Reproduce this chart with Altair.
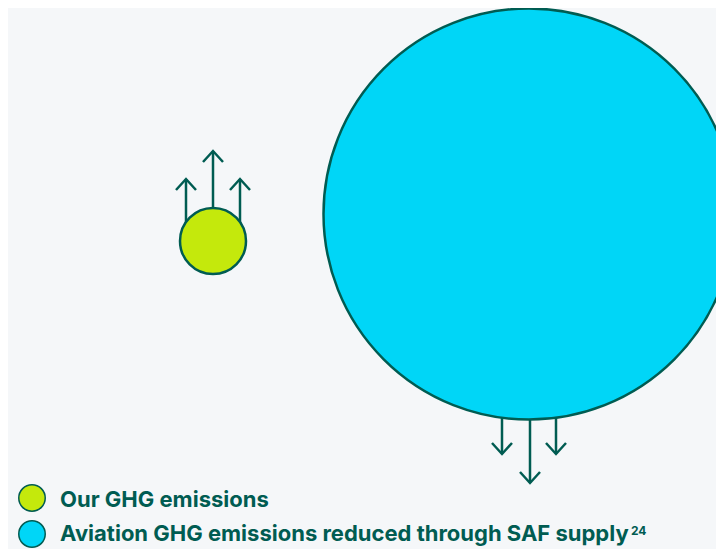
import altair as alt
import pandas as pd

# ---- data ----
categories = ["Our GHG emissions", "Aviation GHG emissions reduced through SAF supply"]
values = [1.0, 38.8]          # relative size (area-proportional)
fill_colors = ["#c4e90c", "#00d6f7"]
footnotes = ["", "24"]
directions = ["up", "down"]

# ---- layout (screen pixel coordinates) ----
OX, OY = 8, 8
W, H = 708, 541
bubble_cx = [213, 529]
bubble_cy = [241, 214]
arrow_x = [[186, 213, 240], [502, 530, 556]]
arrow_tip = [[179, 151, 179], [454, 483, 454]]
head_w, head_h = 10, 11
legend_x = 32
legend_y = [498, 534]
label_x = 60
label_base = [507, 541]
sup_x = [0, 631]
sup_base = [0, 535]

DARK = "#005c52"
BG = "#f5f7f9"

xs = alt.Scale(domain=[OX, OX + W], nice=False, zero=False)
ys = alt.Scale(domain=[OY, OY + H], nice=False, zero=False, reverse=True)
X = lambda f: alt.X(f, type="quantitative", scale=xs, axis=None)
Y = lambda f: alt.Y(f, type="quantitative", scale=ys, axis=None)

bubbles = pd.DataFrame({
    "cat": categories, "value": values, "color": fill_colors,
    "x": bubble_cx, "y": bubble_cy,
})

shafts, heads = [], []
for i in range(len(categories)):
    sgn = -1 if directions[i] == "up" else 1
    for j, (ax, tip) in enumerate(zip(arrow_x[i], arrow_tip[i])):
        shafts.append({"x": ax, "y": bubble_cy[i], "x2": ax, "y2": tip})
        aid = f"{i}-{j}"
        heads.append({"id": aid, "o": 0, "x": ax - head_w, "y": tip - sgn * head_h})
        heads.append({"id": aid, "o": 1, "x": ax, "y": tip})
        heads.append({"id": aid, "o": 2, "x": ax + head_w, "y": tip - sgn * head_h})
shafts = pd.DataFrame(shafts)
heads = pd.DataFrame(heads)

legend = pd.DataFrame({
    "cat": categories, "color": fill_colors, "x": [legend_x] * 2,
    "y": legend_y, "lx": [label_x] * 2, "ly": label_base,
    "sup": footnotes, "sx": sup_x, "sy": sup_base,
})

# Vega circle symbols: size = diameter^2
max_size = (2 * 205.5) ** 2
size_scale = alt.Scale(type="linear", domain=[0, max(values)], range=[0, max_size], zero=True)

shaft_layer = alt.Chart(shafts).mark_rule(color=DARK, strokeWidth=2.5).encode(
    x=X("x"), y=Y("y"), x2="x2", y2="y2")
head_layer = alt.Chart(heads).mark_line(color=DARK, strokeWidth=2.5, strokeJoin="miter").encode(
    x=X("x"), y=Y("y"), detail="id:N", order="o:Q")
bubble_layer = alt.Chart(bubbles).mark_point(
    shape="circle", filled=True, opacity=1, stroke=DARK, strokeWidth=2.5, clip=True
).encode(
    x=X("x"), y=Y("y"),
    size=alt.Size("value:Q", scale=size_scale, legend=None),
    fill=alt.Fill("color:N", scale=None),
)
legend_dots = alt.Chart(legend).mark_point(
    shape="circle", filled=True, opacity=1, stroke=DARK, strokeWidth=1.5, size=700
).encode(x=X("x"), y=Y("y"), fill=alt.Fill("color:N", scale=None))
legend_text = alt.Chart(legend).mark_text(
    align="left", baseline="alphabetic", font="Inter", fontSize=22, fontWeight="bold", color=DARK
).encode(x=X("lx"), y=Y("ly"), text="cat:N")
legend_sup = alt.Chart(legend).mark_text(
    align="left", baseline="alphabetic", font="Inter", fontSize=12, fontWeight="bold", color=DARK
).encode(x=X("sx"), y=Y("sy"), text="sup:N")

chart = alt.layer(shaft_layer, head_layer, bubble_layer, legend_dots, legend_text, legend_sup).properties(
    width=W, height=H, padding=0, background=BG,
    autosize=alt.AutoSizeParams(type="none"),
).configure_view(stroke=None)

chart.save("out.html", embed_options={"renderer": "svg", "actions": False})
